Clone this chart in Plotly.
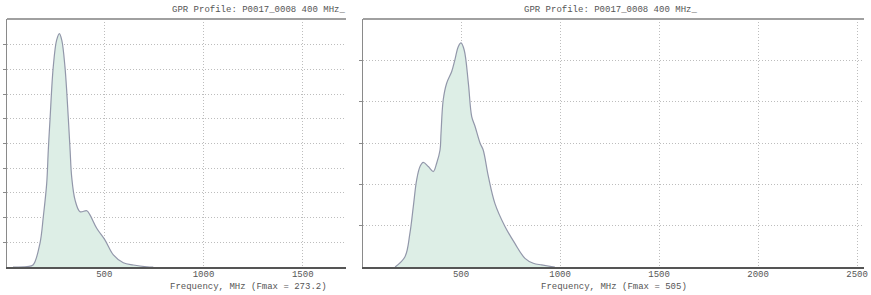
import plotly.graph_objects as go

# Left spectrum (MHz, relative amplitude)
left_freq = [40, 111, 141, 176, 193, 210, 218, 227, 243, 260, 274, 286, 302, 319, 328, 336,
             353, 378, 412, 428, 462, 504, 546, 596, 647, 714, 747]
left_amp = [0.0, 0.02, 0.08, 0.96, 2.04, 3.39, 4.72, 6.02, 8.11, 9.19, 9.46, 9.19, 8.11, 6.02,
            4.72, 3.64, 2.71, 2.24, 2.28, 2.11, 1.57, 1.09, 0.49, 0.17, 0.08, 0.01, 0.0]

# Right spectrum
right_freq = [167, 217, 242, 259, 276, 293, 309, 335, 360, 377, 394, 399, 410, 427, 453, 469,
              486, 500, 516, 537, 554, 571, 596, 612, 638, 671, 722, 772, 823, 865, 907, 957, 974]
right_amp = [0.0, 0.25, 0.82, 1.46, 2.11, 2.43, 2.53, 2.43, 2.31, 2.51, 2.83, 3.24, 4.04, 4.44,
             4.73, 5.01, 5.33, 5.42, 5.25, 4.45, 3.64, 3.40, 3.0, 2.83, 2.19, 1.54, 0.98, 0.57,
             0.21, 0.09, 0.05, 0.01, 0.0]

left_xticks = [500, 1000, 1500]
right_xticks = [500, 1000, 1500, 2000, 2500]
title_text = "GPR Profile: P0017_0008 400 MHz_"
left_xtitle = "Frequency, MHz (Fmax = 273.2)"
right_xtitle = "Frequency, MHz (Fmax = 505)"

W, H = 871, 295
FONT = "Courier New, Liberation Mono, monospace"
TXT = "#555555"
FILL = "#ddeee6"
LINE = "#9297aa"
GRID = "#bdbdbd"

fig = go.Figure()
fig.add_trace(go.Scatter(x=left_freq, y=left_amp, mode="lines", fill="tozeroy",
                         fillcolor=FILL, line=dict(color=LINE, width=1.2, shape="spline"),
                         xaxis="x", yaxis="y", showlegend=False))
fig.add_trace(go.Scatter(x=right_freq, y=right_amp, mode="lines", fill="tozeroy",
                         fillcolor=FILL, line=dict(color=LINE, width=1.2, shape="spline"),
                         xaxis="x2", yaxis="y2", showlegend=False))

y0 = 1 - 267 / H
y1 = 1 - 19 / H

def xax(domain, rng, ticks):
    return dict(domain=domain, range=rng, tickvals=ticks, ticktext=[str(t) for t in ticks],
                showgrid=True, gridcolor=GRID, griddash="1px,2px", gridwidth=1,
                showline=True, linecolor="#555555", linewidth=2, zeroline=False,
                ticks="", ticklabelstandoff=-3,
                tickfont=dict(family=FONT, size=9, color=TXT), automargin=False)

def yax(anchor, rng, ticks):
    return dict(domain=[y0, y1], range=rng, tickvals=ticks, showticklabels=False,
                showgrid=True, gridcolor=GRID, griddash="1px,2px", gridwidth=1,
                showline=True, linecolor="#8a8a8a", linewidth=1, zeroline=False,
                ticks="outside", ticklen=3, tickcolor="#8a8a8a", anchor=anchor,
                automargin=False)

lx0, lx1 = 7 / W, 346 / W
rx0, rx1 = 363 / W, 864 / W

fig.update_layout(
    width=W, height=H, margin=dict(l=0, r=0, t=0, b=0),
    paper_bgcolor="white", plot_bgcolor="white",
    xaxis=dict(xax([lx0, lx1], [10, 1718], left_xticks), anchor="y"),
    yaxis=yax("x", [0, 10.05], list(range(1, 10))),
    xaxis2=dict(xax([rx0, rx1], [5, 2535], right_xticks), anchor="y2"),
    yaxis2=yax("x2", [0, 6.0], list(range(1, 6))),
    shapes=[
        dict(type="line", xref="paper", yref="paper", x0=lx0, x1=lx1, y0=y1, y1=y1,
             line=dict(color="#a0a0a0", width=2)),
        dict(type="line", xref="paper", yref="paper", x0=rx0, x1=rx1, y0=y1, y1=y1,
             line=dict(color="#a0a0a0", width=2)),
    ],
    annotations=[
        dict(text=title_text, xref="paper", yref="paper", x=347 / W, y=1 - 10 / H,
             xanchor="right", yanchor="middle", showarrow=False,
             font=dict(family=FONT, size=9, color=TXT)),
        dict(text=title_text, xref="paper", yref="paper", x=610 / W, y=1 - 10 / H,
             xanchor="center", yanchor="middle", showarrow=False,
             font=dict(family=FONT, size=9, color=TXT)),
        dict(text=left_xtitle, xref="paper", yref="paper", x=329 / W, y=1 - 287 / H,
             xanchor="right", yanchor="middle", showarrow=False,
             font=dict(family=FONT, size=9, color=TXT)),
        dict(text=right_xtitle, xref="paper", yref="paper", x=614 / W, y=1 - 287 / H,
             xanchor="center", yanchor="middle", showarrow=False,
             font=dict(family=FONT, size=9, color=TXT)),
    ],
)

fig.write_html("out.html")
